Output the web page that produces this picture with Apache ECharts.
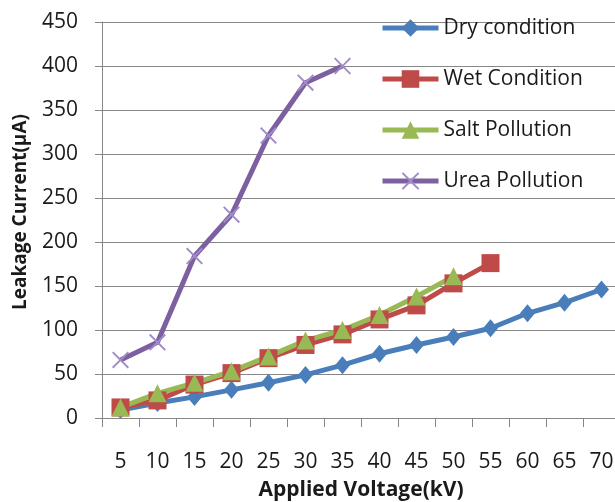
<!DOCTYPE html>
<html>
<head>
<meta charset="utf-8">
<script src="https://cdn.jsdelivr.net/npm/echarts@6/dist/echarts.min.js"></script>
<style>html,body{margin:0;padding:0;background:#fff}#c{width:615px;height:502px}</style>
</head>
<body>
<div id="c"></div>
<script>
const categories = ['5','10','15','20','25','30','35','40','45','50','55','60','65','70'];
const dryCondition = [9, 17, 24, 32, 40, 49, 60, 73, 83, 92, 102, 119, 131, 146];
const wetCondition = [12, 20, 38, 51, 68, 83, 95, 112, 128, 153, 176];
const saltPollution = [12, 28, 40, 53, 70, 88, 100, 117, 138, 161];
const ureaPollution = [66, 86, 184, 231, 321, 381, 400];
const yTicks = {min: 0, max: 450, interval: 50};

const FONT = '"Open Sans", "Liberation Sans", sans-serif';
const xPath = 'path://M0,0.8 L0.8,0 L5,4.2 L9.2,0 L10,0.8 L5.8,5 L10,9.2 L9.2,10 L5,5.8 L0.8,10 L0,9.2 L4.2,5 Z';

const chart = echarts.init(document.getElementById('c'), null, {renderer: 'canvas'});
function mk(name, data, color, symbol, size, symColor) {
  return {
    name: name, type: 'line', data: data,
    symbol: symbol, symbolSize: size, showAllSymbol: true,
    lineStyle: {color: color, width: 5},
    itemStyle: {color: symColor || color},
    emphasis: {disabled: true},
    animation: false
  };
}
chart.setOption({
  animation: false,
  grid: {left: 102, top: 22, width: 518, height: 396, containLabel: false, outerBoundsMode: 'none'},
  legend: {
    orient: 'vertical', left: 380, top: 17, padding: 0,
    itemWidth: 56, itemHeight: 22, itemGap: 29, itemGap: 29,
    lineStyle: {width: 5},
    textStyle: {fontFamily: FONT, fontSize: 21, color: '#1a1a1a', lineHeight: 22},
    data: ['Dry condition', 'Wet Condition', 'Salt Pollution', 'Urea Pollution']
  },
  xAxis: {
    type: 'category', data: categories, boundaryGap: true,
    name: 'Applied Voltage(kV)', nameLocation: 'middle', nameGap: 62,
    nameTextStyle: {fontFamily: FONT, fontSize: 21, fontWeight: 'bold', color: '#1a1a1a'},
    axisLine: {lineStyle: {color: '#868686', width: 1}},
    axisTick: {show: true, length: 9, lineStyle: {color: '#868686'}},
    axisLabel: {fontFamily: FONT, fontSize: 21, color: '#1a1a1a', margin: 34},
    splitLine: {show: false}
  },
  yAxis: {
    type: 'value', min: yTicks.min, max: yTicks.max, interval: yTicks.interval,
    name: 'Leakage Current(µA)', nameLocation: 'middle', nameGap: 72,
    nameTextStyle: {fontFamily: FONT, fontSize: 19, fontWeight: 'bold', color: '#1a1a1a', padding: [0, 0, 0, 16]},
    axisLine: {show: true, lineStyle: {color: '#868686', width: 1}},
    axisTick: {show: true, length: 7, lineStyle: {color: '#868686'}},
    axisLabel: {fontFamily: FONT, fontSize: 21, color: '#1a1a1a', margin: 24},
    splitLine: {show: true, lineStyle: {color: '#868686', width: 1}}
  },
  series: [
    mk('Dry condition', dryCondition, '#4A7EBB', 'diamond', [15, 18]),
    mk('Wet Condition', wetCondition, '#BE4B48', 'rect', 18),
    mk('Salt Pollution', saltPollution, '#98B954', 'triangle', 18),
    mk('Urea Pollution', ureaPollution, '#7D60A0', xPath, 17, '#A08CC8')
  ]
});
</script>
</body>
</html>
